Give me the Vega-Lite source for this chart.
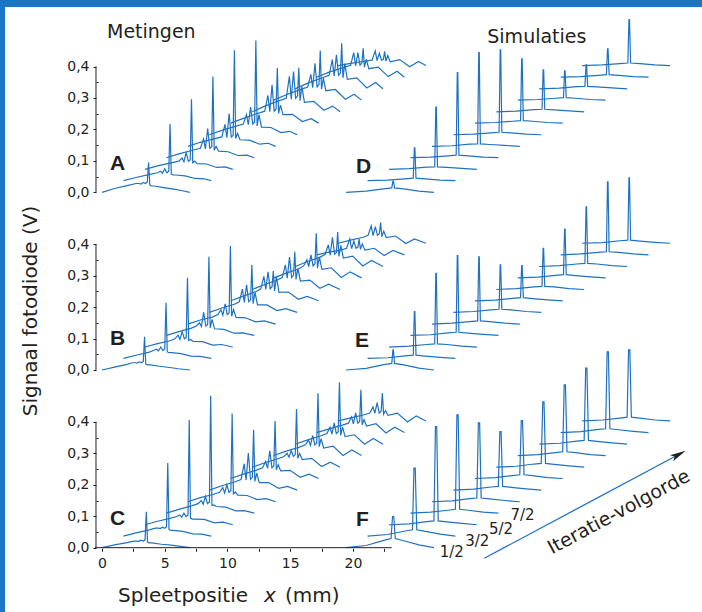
{
"$schema":"https://vega.github.io/schema/vega-lite/v6.json",
"width":697,"height":605,
"autosize":{"type":"none"},
"padding":{"left":5,"top":7,"right":0,"bottom":0},
"background":"#1b75c3",
"config":{"view":{"fill":"white","stroke":null}},
"encoding":{"x":{"field":"x","type":"quantitative","scale":{"domain":[-7.729,47.809],"nice":false,"zero":false},"axis":{"orient":"bottom","offset":-63.7,"values":[0,2.5,5,7.5,10,12.5,15,17.5,20,22.5],"labelExpr":"datum.value % 5 == 0 ? datum.value : ''","domain":false,"grid":false,"tickSize":3,"tickColor":"#231f20","labelFont":"DejaVu Sans","labelFontSize":14,"labelColor":"#231f20","labelPadding":5,"labelOverlap":false,"labelFlush":false,"title":null}}},
"layer":[
{"data":{"values":[
{"k":"a1","x":0,"y":0},{"k":"a1","x":1,"y":0.012},{"k":"a1","x":2,"y":0.021},{"k":"a1","x":2.71,"y":0.028},{"k":"a1","x":2.96,"y":0.028},{"k":"a1","x":3.11,"y":0.026},{"k":"a1","x":3.29,"y":0.031},{"k":"a1","x":3.46,"y":0.028},{"k":"a1","x":3.61,"y":0.033},{"k":"a1","x":3.71,"y":0.095},{"k":"a1","x":3.81,"y":0.023},{"k":"a1","x":3.96,"y":0.02},{"k":"a1","x":4.16,"y":0.02},{"k":"a1","x":4.91,"y":0.015},{"k":"a1","x":5.71,"y":0.01},{"k":"a1","x":6.41,"y":0.005},{"k":"a1","x":7,"y":0},
{"k":"a2","x":1.71,"y":0.037},{"k":"a2","x":2.71,"y":0.047},{"k":"a2","x":3.71,"y":0.056},{"k":"a2","x":4.42,"y":0.062},{"k":"a2","x":4.67,"y":0.067},{"k":"a2","x":4.82,"y":0.061},{"k":"a2","x":5.0,"y":0.075},{"k":"a2","x":5.17,"y":0.062},{"k":"a2","x":5.32,"y":0.067},{"k":"a2","x":5.42,"y":0.217},{"k":"a2","x":5.52,"y":0.058},{"k":"a2","x":5.67,"y":0.055},{"k":"a2","x":5.87,"y":0.055},{"k":"a2","x":6.62,"y":0.052},{"k":"a2","x":7.42,"y":0.044},{"k":"a2","x":8.12,"y":0.043},{"k":"a2","x":8.71,"y":0.037},
{"k":"a3","x":3.42,"y":0.073},{"k":"a3","x":4.42,"y":0.084},{"k":"a3","x":5.42,"y":0.093},{"k":"a3","x":6.13,"y":0.099},{"k":"a3","x":6.38,"y":0.109},{"k":"a3","x":6.53,"y":0.097},{"k":"a3","x":6.71,"y":0.127},{"k":"a3","x":6.88,"y":0.099},{"k":"a3","x":7.03,"y":0.103},{"k":"a3","x":7.13,"y":0.296},{"k":"a3","x":7.23,"y":0.094},{"k":"a3","x":7.38,"y":0.099},{"k":"a3","x":7.58,"y":0.091},{"k":"a3","x":8.33,"y":0.09},{"k":"a3","x":9.13,"y":0.079},{"k":"a3","x":9.83,"y":0.081},{"k":"a3","x":10.42,"y":0.073},
{"k":"a4","x":5.13,"y":0.11},{"k":"a4","x":6.13,"y":0.122},{"k":"a4","x":7.13,"y":0.133},{"k":"a4","x":7.84,"y":0.14},{"k":"a4","x":8.09,"y":0.17},{"k":"a4","x":8.24,"y":0.138},{"k":"a4","x":8.42,"y":0.203},{"k":"a4","x":8.59,"y":0.14},{"k":"a4","x":8.74,"y":0.145},{"k":"a4","x":8.84,"y":0.368},{"k":"a4","x":8.94,"y":0.134},{"k":"a4","x":9.09,"y":0.146},{"k":"a4","x":9.29,"y":0.131},{"k":"a4","x":10.04,"y":0.129},{"k":"a4","x":10.84,"y":0.117},{"k":"a4","x":11.54,"y":0.118},{"k":"a4","x":12.13,"y":0.11},
{"k":"a5","x":6.84,"y":0.146},{"k":"a5","x":7.84,"y":0.159},{"k":"a5","x":8.84,"y":0.169},{"k":"a5","x":9.55,"y":0.176},{"k":"a5","x":9.8,"y":0.216},{"k":"a5","x":9.95,"y":0.174},{"k":"a5","x":10.13,"y":0.25},{"k":"a5","x":10.3,"y":0.176},{"k":"a5","x":10.45,"y":0.181},{"k":"a5","x":10.55,"y":0.452},{"k":"a5","x":10.65,"y":0.171},{"k":"a5","x":10.8,"y":0.187},{"k":"a5","x":11.0,"y":0.167},{"k":"a5","x":11.75,"y":0.166},{"k":"a5","x":12.55,"y":0.153},{"k":"a5","x":13.25,"y":0.156},{"k":"a5","x":13.84,"y":0.146},
{"k":"a6","x":8.55,"y":0.183},{"k":"a6","x":9.55,"y":0.197},{"k":"a6","x":10.55,"y":0.209},{"k":"a6","x":11.26,"y":0.217},{"k":"a6","x":11.51,"y":0.247},{"k":"a6","x":11.66,"y":0.215},{"k":"a6","x":11.84,"y":0.271},{"k":"a6","x":12.01,"y":0.217},{"k":"a6","x":12.16,"y":0.223},{"k":"a6","x":12.26,"y":0.483},{"k":"a6","x":12.36,"y":0.211},{"k":"a6","x":12.51,"y":0.247},{"k":"a6","x":12.71,"y":0.207},{"k":"a6","x":13.46,"y":0.206},{"k":"a6","x":14.26,"y":0.19},{"k":"a6","x":14.96,"y":0.194},{"k":"a6","x":15.55,"y":0.183},
{"k":"a7","x":10.26,"y":0.22},{"k":"a7","x":11.26,"y":0.235},{"k":"a7","x":12.26,"y":0.249},{"k":"a7","x":12.97,"y":0.258},{"k":"a7","x":13.22,"y":0.308},{"k":"a7","x":13.37,"y":0.256},{"k":"a7","x":13.55,"y":0.342},{"k":"a7","x":13.72,"y":0.258},{"k":"a7","x":13.87,"y":0.265},{"k":"a7","x":13.97,"y":0.395},{"k":"a7","x":14.07,"y":0.251},{"k":"a7","x":14.22,"y":0.277},{"k":"a7","x":14.42,"y":0.247},{"k":"a7","x":15.17,"y":0.248},{"k":"a7","x":15.97,"y":0.225},{"k":"a7","x":16.67,"y":0.234},{"k":"a7","x":17.26,"y":0.22},
{"k":"a8","x":11.97,"y":0.256},{"k":"a8","x":12.97,"y":0.274},{"k":"a8","x":13.97,"y":0.289},{"k":"a8","x":14.68,"y":0.299},{"k":"a8","x":14.93,"y":0.369},{"k":"a8","x":15.08,"y":0.296},{"k":"a8","x":15.26,"y":0.384},{"k":"a8","x":15.43,"y":0.299},{"k":"a8","x":15.58,"y":0.306},{"k":"a8","x":15.68,"y":0.396},{"k":"a8","x":15.78,"y":0.291},{"k":"a8","x":15.93,"y":0.336},{"k":"a8","x":16.13,"y":0.286},{"k":"a8","x":16.88,"y":0.289},{"k":"a8","x":17.68,"y":0.261},{"k":"a8","x":18.38,"y":0.274},{"k":"a8","x":18.97,"y":0.256},
{"k":"a9","x":13.68,"y":0.293},{"k":"a9","x":14.68,"y":0.31},{"k":"a9","x":15.68,"y":0.325},{"k":"a9","x":16.39,"y":0.335},{"k":"a9","x":16.64,"y":0.375},{"k":"a9","x":16.79,"y":0.333},{"k":"a9","x":16.97,"y":0.41},{"k":"a9","x":17.14,"y":0.335},{"k":"a9","x":17.29,"y":0.343},{"k":"a9","x":17.39,"y":0.451},{"k":"a9","x":17.49,"y":0.328},{"k":"a9","x":17.64,"y":0.363},{"k":"a9","x":17.84,"y":0.323},{"k":"a9","x":18.59,"y":0.327},{"k":"a9","x":19.39,"y":0.296},{"k":"a9","x":20.09,"y":0.312},{"k":"a9","x":20.68,"y":0.293},
{"k":"a10","x":15.39,"y":0.329},{"k":"a10","x":16.39,"y":0.347},{"k":"a10","x":17.39,"y":0.362},{"k":"a10","x":18.1,"y":0.372},{"k":"a10","x":18.35,"y":0.422},{"k":"a10","x":18.5,"y":0.369},{"k":"a10","x":18.68,"y":0.437},{"k":"a10","x":18.85,"y":0.372},{"k":"a10","x":19.0,"y":0.379},{"k":"a10","x":19.1,"y":0.474},{"k":"a10","x":19.2,"y":0.364},{"k":"a10","x":19.35,"y":0.409},{"k":"a10","x":19.55,"y":0.359},{"k":"a10","x":20.3,"y":0.364},{"k":"a10","x":21.1,"y":0.332},{"k":"a10","x":21.8,"y":0.349},{"k":"a10","x":22.39,"y":0.329},
{"k":"a11","x":17.1,"y":0.366},{"k":"a11","x":18.1,"y":0.382},{"k":"a11","x":19.1,"y":0.395},{"k":"a11","x":19.81,"y":0.404},{"k":"a11","x":20.06,"y":0.444},{"k":"a11","x":20.21,"y":0.402},{"k":"a11","x":20.39,"y":0.444},{"k":"a11","x":20.56,"y":0.404},{"k":"a11","x":20.71,"y":0.411},{"k":"a11","x":20.81,"y":0.458},{"k":"a11","x":20.91,"y":0.398},{"k":"a11","x":21.06,"y":0.423},{"k":"a11","x":21.26,"y":0.393},{"k":"a11","x":22.01,"y":0.398},{"k":"a11","x":22.81,"y":0.368},{"k":"a11","x":23.51,"y":0.385},{"k":"a11","x":24.1,"y":0.366},
{"k":"a12","x":18.81,"y":0.403},{"k":"a12","x":19.81,"y":0.41},{"k":"a12","x":20.81,"y":0.416},{"k":"a12","x":21.52,"y":0.42},{"k":"a12","x":21.77,"y":0.45},{"k":"a12","x":21.92,"y":0.419},{"k":"a12","x":22.1,"y":0.442},{"k":"a12","x":22.27,"y":0.42},{"k":"a12","x":22.42,"y":0.423},{"k":"a12","x":22.52,"y":0.448},{"k":"a12","x":22.62,"y":0.417},{"k":"a12","x":22.77,"y":0.435},{"k":"a12","x":22.97,"y":0.415},{"k":"a12","x":23.72,"y":0.422},{"k":"a12","x":24.52,"y":0.399},{"k":"a12","x":25.22,"y":0.416},{"k":"a12","x":25.81,"y":0.403},
{"k":"d1","x":19.45,"y":0},{"k":"d1","x":21.05,"y":0.004},{"k":"d1","x":22.45,"y":0.011},{"k":"d1","x":23.09,"y":0.014},{"k":"d1","x":23.18,"y":0.036},{"k":"d1","x":23.22,"y":0.036},{"k":"d1","x":23.31,"y":0.014},{"k":"d1","x":24.05,"y":0.011},{"k":"d1","x":25.25,"y":0.004},{"k":"d1","x":26.45,"y":0},
{"k":"d2","x":21.16,"y":0.037},{"k":"d2","x":22.76,"y":0.039},{"k":"d2","x":24.16,"y":0.043},{"k":"d2","x":24.8,"y":0.045},{"k":"d2","x":24.89,"y":0.141},{"k":"d2","x":24.93,"y":0.141},{"k":"d2","x":25.02,"y":0.045},{"k":"d2","x":25.76,"y":0.043},{"k":"d2","x":26.96,"y":0.039},{"k":"d2","x":28.16,"y":0.037},
{"k":"d3","x":22.87,"y":0.073},{"k":"d3","x":24.47,"y":0.075},{"k":"d3","x":25.87,"y":0.08},{"k":"d3","x":26.51,"y":0.081},{"k":"d3","x":26.6,"y":0.271},{"k":"d3","x":26.64,"y":0.271},{"k":"d3","x":26.73,"y":0.081},{"k":"d3","x":27.47,"y":0.079},{"k":"d3","x":28.67,"y":0.076},{"k":"d3","x":29.87,"y":0.073},
{"k":"d4","x":24.58,"y":0.11},{"k":"d4","x":26.18,"y":0.112},{"k":"d4","x":27.58,"y":0.116},{"k":"d4","x":28.22,"y":0.118},{"k":"d4","x":28.31,"y":0.381},{"k":"d4","x":28.35,"y":0.381},{"k":"d4","x":28.44,"y":0.118},{"k":"d4","x":29.18,"y":0.116},{"k":"d4","x":30.38,"y":0.112},{"k":"d4","x":31.58,"y":0.11},
{"k":"d5","x":26.29,"y":0.146},{"k":"d5","x":27.89,"y":0.148},{"k":"d5","x":29.29,"y":0.153},{"k":"d5","x":29.93,"y":0.154},{"k":"d5","x":30.02,"y":0.444},{"k":"d5","x":30.06,"y":0.444},{"k":"d5","x":30.15,"y":0.154},{"k":"d5","x":30.89,"y":0.152},{"k":"d5","x":32.09,"y":0.149},{"k":"d5","x":33.29,"y":0.146},
{"k":"d6","x":28,"y":0.183},{"k":"d6","x":29.6,"y":0.185},{"k":"d6","x":31,"y":0.189},{"k":"d6","x":31.64,"y":0.191},{"k":"d6","x":31.73,"y":0.453},{"k":"d6","x":31.77,"y":0.453},{"k":"d6","x":31.86,"y":0.191},{"k":"d6","x":32.6,"y":0.189},{"k":"d6","x":33.8,"y":0.185},{"k":"d6","x":35,"y":0.183},
{"k":"d7","x":29.71,"y":0.22},{"k":"d7","x":31.31,"y":0.222},{"k":"d7","x":32.71,"y":0.226},{"k":"d7","x":33.35,"y":0.228},{"k":"d7","x":33.44,"y":0.424},{"k":"d7","x":33.48,"y":0.424},{"k":"d7","x":33.57,"y":0.228},{"k":"d7","x":34.31,"y":0.226},{"k":"d7","x":35.51,"y":0.222},{"k":"d7","x":36.71,"y":0.22},
{"k":"d8","x":31.42,"y":0.256},{"k":"d8","x":33.02,"y":0.258},{"k":"d8","x":34.42,"y":0.263},{"k":"d8","x":35.06,"y":0.264},{"k":"d8","x":35.15,"y":0.389},{"k":"d8","x":35.19,"y":0.389},{"k":"d8","x":35.28,"y":0.264},{"k":"d8","x":36.02,"y":0.262},{"k":"d8","x":37.22,"y":0.259},{"k":"d8","x":38.42,"y":0.256},
{"k":"d9","x":33.13,"y":0.293},{"k":"d9","x":34.73,"y":0.295},{"k":"d9","x":36.13,"y":0.299},{"k":"d9","x":36.77,"y":0.301},{"k":"d9","x":36.86,"y":0.386},{"k":"d9","x":36.9,"y":0.386},{"k":"d9","x":36.99,"y":0.301},{"k":"d9","x":37.73,"y":0.299},{"k":"d9","x":38.93,"y":0.295},{"k":"d9","x":40.13,"y":0.293},
{"k":"d10","x":34.84,"y":0.329},{"k":"d10","x":36.44,"y":0.331},{"k":"d10","x":37.84,"y":0.336},{"k":"d10","x":38.48,"y":0.337},{"k":"d10","x":38.57,"y":0.405},{"k":"d10","x":38.61,"y":0.405},{"k":"d10","x":38.7,"y":0.337},{"k":"d10","x":39.44,"y":0.335},{"k":"d10","x":40.64,"y":0.332},{"k":"d10","x":41.84,"y":0.329},
{"k":"d11","x":36.55,"y":0.366},{"k":"d11","x":38.15,"y":0.368},{"k":"d11","x":39.55,"y":0.372},{"k":"d11","x":40.19,"y":0.374},{"k":"d11","x":40.28,"y":0.456},{"k":"d11","x":40.32,"y":0.456},{"k":"d11","x":40.41,"y":0.374},{"k":"d11","x":41.15,"y":0.372},{"k":"d11","x":42.35,"y":0.368},{"k":"d11","x":43.55,"y":0.366},
{"k":"d12","x":38.26,"y":0.403},{"k":"d12","x":39.86,"y":0.405},{"k":"d12","x":41.26,"y":0.409},{"k":"d12","x":41.9,"y":0.411},{"k":"d12","x":41.99,"y":0.549},{"k":"d12","x":42.03,"y":0.549},{"k":"d12","x":42.12,"y":0.411},{"k":"d12","x":42.86,"y":0.409},{"k":"d12","x":44.06,"y":0.405},{"k":"d12","x":45.26,"y":0.403}
]},
"encoding":{"y":{"field":"y","type":"quantitative","scale":{"domain":[-1.3345,0.5892],"nice":false,"zero":false},"axis":{"orient":"left","offset":-91,"values":[0,0.05,0.1,0.15,0.2,0.25,0.3,0.35,0.4],"labelExpr":"round(datum.value*20) % 2 == 1 ? '' : replace(format(datum.value, '.1f'), '.', ',')","domain":false,"grid":false,"tickSize":{"condition":{"test":"round(datum.value*20) % 2 == 1","value":-2},"value":3},"tickColor":"#231f20","labelFont":"DejaVu Sans","labelFontSize":14,"labelColor":"#231f20","labelPadding":4,"labelOverlap":false,"title":null}}},
"layer":[
{"mark":{"type":"line","color":"#1f72c2","strokeWidth":1.2},"encoding":{"detail":{"field":"k","type":"nominal"}}},
{"data":{"values":[{"x":-0.478,"y":0,"y2":0.4}]},"mark":{"type":"rule","color":"#231f20","strokeWidth":1},"encoding":{"y2":{"field":"y2"}}},
{"data":{"values":[{"x":0.398,"y":0.4897,"t":"Metingen"},{"x":30.7,"y":0.4757,"t":"Simulaties"}]},"mark":{"type":"text","font":"DejaVu Sans","fontSize":19,"align":"left","baseline":"alphabetic","color":"#231f20"},"encoding":{"text":{"field":"t"}}},
{"data":{"values":[{"x":0.637,"y":0.0709,"t":"A"},{"x":20.24,"y":0.0623,"t":"D"}]},"mark":{"type":"text","font":"Liberation Sans","fontWeight":"bold","fontSize":21,"align":"left","baseline":"alphabetic","color":"#231f20"},"encoding":{"text":{"field":"t"}}},
{"data":{"values":[{}]},"mark":{"type":"rect","fill":{"gradient":"linear","x1":0,"y1":0,"x2":1,"y2":0,"stops":[{"offset":0,"color":"#1b70c0"},{"offset":0.5,"color":"#4386cb"},{"offset":1,"color":"#7ca7d8"}]}},"encoding":{"x":{"datum":-7.729},"x2":{"datum":47.809},"y":{"datum":0.5892},"y2":{"datum":0.65}}}
]},
{"data":{"values":[
{"k":"b1","x":0,"y":0},{"k":"b1","x":1,"y":0.009},{"k":"b1","x":2,"y":0.018},{"k":"b1","x":2.39,"y":0.023},{"k":"b1","x":2.64,"y":0.023},{"k":"b1","x":2.79,"y":0.022},{"k":"b1","x":2.97,"y":0.026},{"k":"b1","x":3.14,"y":0.023},{"k":"b1","x":3.29,"y":0.027},{"k":"b1","x":3.39,"y":0.106},{"k":"b1","x":3.49,"y":0.019},{"k":"b1","x":3.64,"y":0.016},{"k":"b1","x":3.84,"y":0.016},{"k":"b1","x":4.59,"y":0.012},{"k":"b1","x":5.39,"y":0.008},{"k":"b1","x":6.09,"y":0.004},{"k":"b1","x":7,"y":0},
{"k":"b2","x":1.71,"y":0.037},{"k":"b2","x":2.71,"y":0.047},{"k":"b2","x":3.71,"y":0.056},{"k":"b2","x":4.1,"y":0.062},{"k":"b2","x":4.35,"y":0.066},{"k":"b2","x":4.5,"y":0.061},{"k":"b2","x":4.68,"y":0.073},{"k":"b2","x":4.85,"y":0.062},{"k":"b2","x":5.0,"y":0.067},{"k":"b2","x":5.1,"y":0.214},{"k":"b2","x":5.2,"y":0.058},{"k":"b2","x":5.35,"y":0.055},{"k":"b2","x":5.55,"y":0.055},{"k":"b2","x":6.3,"y":0.052},{"k":"b2","x":7.1,"y":0.044},{"k":"b2","x":7.8,"y":0.043},{"k":"b2","x":8.71,"y":0.037},
{"k":"b3","x":3.42,"y":0.073},{"k":"b3","x":4.42,"y":0.084},{"k":"b3","x":5.42,"y":0.093},{"k":"b3","x":5.81,"y":0.099},{"k":"b3","x":6.06,"y":0.111},{"k":"b3","x":6.21,"y":0.097},{"k":"b3","x":6.39,"y":0.122},{"k":"b3","x":6.56,"y":0.099},{"k":"b3","x":6.71,"y":0.103},{"k":"b3","x":6.81,"y":0.293},{"k":"b3","x":6.91,"y":0.094},{"k":"b3","x":7.06,"y":0.097},{"k":"b3","x":7.26,"y":0.091},{"k":"b3","x":8.01,"y":0.09},{"k":"b3","x":8.81,"y":0.079},{"k":"b3","x":9.51,"y":0.081},{"k":"b3","x":10.42,"y":0.073},
{"k":"b4","x":5.13,"y":0.11},{"k":"b4","x":6.13,"y":0.122},{"k":"b4","x":7.13,"y":0.133},{"k":"b4","x":7.52,"y":0.14},{"k":"b4","x":7.77,"y":0.15},{"k":"b4","x":7.92,"y":0.138},{"k":"b4","x":8.1,"y":0.183},{"k":"b4","x":8.27,"y":0.14},{"k":"b4","x":8.42,"y":0.145},{"k":"b4","x":8.52,"y":0.36},{"k":"b4","x":8.62,"y":0.134},{"k":"b4","x":8.77,"y":0.161},{"k":"b4","x":8.97,"y":0.131},{"k":"b4","x":9.72,"y":0.129},{"k":"b4","x":10.52,"y":0.117},{"k":"b4","x":11.22,"y":0.118},{"k":"b4","x":12.13,"y":0.11},
{"k":"b5","x":6.84,"y":0.146},{"k":"b5","x":7.84,"y":0.159},{"k":"b5","x":8.84,"y":0.169},{"k":"b5","x":9.23,"y":0.176},{"k":"b5","x":9.48,"y":0.191},{"k":"b5","x":9.63,"y":0.174},{"k":"b5","x":9.81,"y":0.21},{"k":"b5","x":9.98,"y":0.176},{"k":"b5","x":10.13,"y":0.181},{"k":"b5","x":10.23,"y":0.394},{"k":"b5","x":10.33,"y":0.171},{"k":"b5","x":10.48,"y":0.192},{"k":"b5","x":10.68,"y":0.167},{"k":"b5","x":11.43,"y":0.166},{"k":"b5","x":12.23,"y":0.153},{"k":"b5","x":12.93,"y":0.156},{"k":"b5","x":13.84,"y":0.146},
{"k":"b6","x":8.55,"y":0.183},{"k":"b6","x":9.55,"y":0.197},{"k":"b6","x":10.55,"y":0.209},{"k":"b6","x":10.94,"y":0.217},{"k":"b6","x":11.19,"y":0.257},{"k":"b6","x":11.34,"y":0.215},{"k":"b6","x":11.52,"y":0.271},{"k":"b6","x":11.69,"y":0.217},{"k":"b6","x":11.84,"y":0.223},{"k":"b6","x":11.94,"y":0.334},{"k":"b6","x":12.04,"y":0.211},{"k":"b6","x":12.19,"y":0.247},{"k":"b6","x":12.39,"y":0.207},{"k":"b6","x":13.14,"y":0.207},{"k":"b6","x":13.94,"y":0.189},{"k":"b6","x":14.64,"y":0.195},{"k":"b6","x":15.55,"y":0.183},
{"k":"b7","x":10.26,"y":0.22},{"k":"b7","x":11.26,"y":0.235},{"k":"b7","x":12.26,"y":0.249},{"k":"b7","x":12.65,"y":0.258},{"k":"b7","x":12.9,"y":0.298},{"k":"b7","x":13.05,"y":0.256},{"k":"b7","x":13.23,"y":0.312},{"k":"b7","x":13.4,"y":0.258},{"k":"b7","x":13.55,"y":0.265},{"k":"b7","x":13.65,"y":0.315},{"k":"b7","x":13.75,"y":0.251},{"k":"b7","x":13.9,"y":0.297},{"k":"b7","x":14.1,"y":0.247},{"k":"b7","x":14.85,"y":0.248},{"k":"b7","x":15.65,"y":0.225},{"k":"b7","x":16.35,"y":0.234},{"k":"b7","x":17.26,"y":0.22},
{"k":"b8","x":11.97,"y":0.256},{"k":"b8","x":12.97,"y":0.272},{"k":"b8","x":13.97,"y":0.286},{"k":"b8","x":14.36,"y":0.294},{"k":"b8","x":14.61,"y":0.334},{"k":"b8","x":14.76,"y":0.292},{"k":"b8","x":14.94,"y":0.359},{"k":"b8","x":15.11,"y":0.294},{"k":"b8","x":15.26,"y":0.301},{"k":"b8","x":15.36,"y":0.376},{"k":"b8","x":15.46,"y":0.288},{"k":"b8","x":15.61,"y":0.323},{"k":"b8","x":15.81,"y":0.283},{"k":"b8","x":16.56,"y":0.286},{"k":"b8","x":17.36,"y":0.26},{"k":"b8","x":18.06,"y":0.273},{"k":"b8","x":18.97,"y":0.256},
{"k":"b9","x":13.68,"y":0.293},{"k":"b9","x":14.68,"y":0.308},{"k":"b9","x":15.68,"y":0.322},{"k":"b9","x":16.07,"y":0.331},{"k":"b9","x":16.32,"y":0.351},{"k":"b9","x":16.47,"y":0.329},{"k":"b9","x":16.65,"y":0.366},{"k":"b9","x":16.82,"y":0.331},{"k":"b9","x":16.97,"y":0.338},{"k":"b9","x":17.07,"y":0.435},{"k":"b9","x":17.17,"y":0.324},{"k":"b9","x":17.32,"y":0.36},{"k":"b9","x":17.52,"y":0.32},{"k":"b9","x":18.27,"y":0.325},{"k":"b9","x":19.07,"y":0.294},{"k":"b9","x":19.77,"y":0.312},{"k":"b9","x":20.68,"y":0.293},
{"k":"b10","x":15.39,"y":0.329},{"k":"b10","x":16.39,"y":0.345},{"k":"b10","x":17.39,"y":0.359},{"k":"b10","x":17.78,"y":0.368},{"k":"b10","x":18.03,"y":0.398},{"k":"b10","x":18.18,"y":0.365},{"k":"b10","x":18.36,"y":0.422},{"k":"b10","x":18.53,"y":0.368},{"k":"b10","x":18.68,"y":0.374},{"k":"b10","x":18.78,"y":0.439},{"k":"b10","x":18.88,"y":0.361},{"k":"b10","x":19.03,"y":0.396},{"k":"b10","x":19.23,"y":0.356},{"k":"b10","x":19.98,"y":0.362},{"k":"b10","x":20.78,"y":0.331},{"k":"b10","x":21.48,"y":0.348},{"k":"b10","x":22.39,"y":0.329},
{"k":"b11","x":17.1,"y":0.366},{"k":"b11","x":18.1,"y":0.375},{"k":"b11","x":19.1,"y":0.382},{"k":"b11","x":19.49,"y":0.387},{"k":"b11","x":19.74,"y":0.417},{"k":"b11","x":19.89,"y":0.386},{"k":"b11","x":20.07,"y":0.41},{"k":"b11","x":20.24,"y":0.387},{"k":"b11","x":20.39,"y":0.391},{"k":"b11","x":20.49,"y":0.416},{"k":"b11","x":20.59,"y":0.384},{"k":"b11","x":20.74,"y":0.401},{"k":"b11","x":20.94,"y":0.381},{"k":"b11","x":21.69,"y":0.387},{"k":"b11","x":22.49,"y":0.364},{"k":"b11","x":23.19,"y":0.38},{"k":"b11","x":24.1,"y":0.366},
{"k":"b12","x":18.81,"y":0.403},{"k":"b12","x":19.81,"y":0.413},{"k":"b12","x":20.81,"y":0.422},{"k":"b12","x":21.2,"y":0.428},{"k":"b12","x":21.45,"y":0.458},{"k":"b12","x":21.6,"y":0.427},{"k":"b12","x":21.78,"y":0.456},{"k":"b12","x":21.95,"y":0.428},{"k":"b12","x":22.1,"y":0.433},{"k":"b12","x":22.2,"y":0.469},{"k":"b12","x":22.3,"y":0.424},{"k":"b12","x":22.45,"y":0.441},{"k":"b12","x":22.65,"y":0.421},{"k":"b12","x":23.4,"y":0.426},{"k":"b12","x":24.2,"y":0.402},{"k":"b12","x":24.9,"y":0.417},{"k":"b12","x":25.81,"y":0.403},
{"k":"e1","x":19.45,"y":0},{"k":"e1","x":21.05,"y":0.005},{"k":"e1","x":22.45,"y":0.017},{"k":"e1","x":23.09,"y":0.021},{"k":"e1","x":23.18,"y":0.064},{"k":"e1","x":23.22,"y":0.064},{"k":"e1","x":23.31,"y":0.021},{"k":"e1","x":24.05,"y":0.016},{"k":"e1","x":25.25,"y":0.006},{"k":"e1","x":26.45,"y":0},
{"k":"e2","x":21.16,"y":0.037},{"k":"e2","x":22.76,"y":0.039},{"k":"e2","x":24.16,"y":0.045},{"k":"e2","x":24.8,"y":0.047},{"k":"e2","x":24.89,"y":0.186},{"k":"e2","x":24.93,"y":0.186},{"k":"e2","x":25.02,"y":0.047},{"k":"e2","x":25.76,"y":0.044},{"k":"e2","x":26.96,"y":0.04},{"k":"e2","x":28.16,"y":0.037},
{"k":"e3","x":22.87,"y":0.073},{"k":"e3","x":24.47,"y":0.076},{"k":"e3","x":25.87,"y":0.081},{"k":"e3","x":26.51,"y":0.083},{"k":"e3","x":26.6,"y":0.307},{"k":"e3","x":26.64,"y":0.307},{"k":"e3","x":26.73,"y":0.083},{"k":"e3","x":27.47,"y":0.081},{"k":"e3","x":28.67,"y":0.076},{"k":"e3","x":29.87,"y":0.073},
{"k":"e4","x":24.58,"y":0.11},{"k":"e4","x":26.18,"y":0.112},{"k":"e4","x":27.58,"y":0.118},{"k":"e4","x":28.22,"y":0.12},{"k":"e4","x":28.31,"y":0.364},{"k":"e4","x":28.35,"y":0.364},{"k":"e4","x":28.44,"y":0.12},{"k":"e4","x":29.18,"y":0.117},{"k":"e4","x":30.38,"y":0.113},{"k":"e4","x":31.58,"y":0.11},
{"k":"e5","x":26.29,"y":0.146},{"k":"e5","x":27.89,"y":0.149},{"k":"e5","x":29.29,"y":0.154},{"k":"e5","x":29.93,"y":0.156},{"k":"e5","x":30.02,"y":0.36},{"k":"e5","x":30.06,"y":0.36},{"k":"e5","x":30.15,"y":0.156},{"k":"e5","x":30.89,"y":0.154},{"k":"e5","x":32.09,"y":0.149},{"k":"e5","x":33.29,"y":0.146},
{"k":"e6","x":28,"y":0.183},{"k":"e6","x":29.6,"y":0.186},{"k":"e6","x":31,"y":0.191},{"k":"e6","x":31.64,"y":0.193},{"k":"e6","x":31.73,"y":0.334},{"k":"e6","x":31.77,"y":0.334},{"k":"e6","x":31.86,"y":0.193},{"k":"e6","x":32.6,"y":0.191},{"k":"e6","x":33.8,"y":0.186},{"k":"e6","x":35,"y":0.183},
{"k":"e7","x":29.71,"y":0.22},{"k":"e7","x":31.31,"y":0.222},{"k":"e7","x":32.71,"y":0.228},{"k":"e7","x":33.35,"y":0.23},{"k":"e7","x":33.44,"y":0.332},{"k":"e7","x":33.48,"y":0.332},{"k":"e7","x":33.57,"y":0.23},{"k":"e7","x":34.31,"y":0.227},{"k":"e7","x":35.51,"y":0.223},{"k":"e7","x":36.71,"y":0.22},
{"k":"e8","x":31.42,"y":0.256},{"k":"e8","x":33.02,"y":0.259},{"k":"e8","x":34.42,"y":0.264},{"k":"e8","x":35.06,"y":0.266},{"k":"e8","x":35.15,"y":0.387},{"k":"e8","x":35.19,"y":0.387},{"k":"e8","x":35.28,"y":0.266},{"k":"e8","x":36.02,"y":0.264},{"k":"e8","x":37.22,"y":0.259},{"k":"e8","x":38.42,"y":0.256},
{"k":"e9","x":33.13,"y":0.293},{"k":"e9","x":34.73,"y":0.295},{"k":"e9","x":36.13,"y":0.301},{"k":"e9","x":36.77,"y":0.303},{"k":"e9","x":36.86,"y":0.448},{"k":"e9","x":36.9,"y":0.448},{"k":"e9","x":36.99,"y":0.303},{"k":"e9","x":37.73,"y":0.3},{"k":"e9","x":38.93,"y":0.296},{"k":"e9","x":40.13,"y":0.293},
{"k":"e10","x":34.84,"y":0.329},{"k":"e10","x":36.44,"y":0.332},{"k":"e10","x":37.84,"y":0.337},{"k":"e10","x":38.48,"y":0.339},{"k":"e10","x":38.57,"y":0.519},{"k":"e10","x":38.61,"y":0.519},{"k":"e10","x":38.7,"y":0.339},{"k":"e10","x":39.44,"y":0.337},{"k":"e10","x":40.64,"y":0.332},{"k":"e10","x":41.84,"y":0.329},
{"k":"e11","x":36.55,"y":0.366},{"k":"e11","x":38.15,"y":0.369},{"k":"e11","x":39.55,"y":0.374},{"k":"e11","x":40.19,"y":0.376},{"k":"e11","x":40.28,"y":0.598},{"k":"e11","x":40.32,"y":0.598},{"k":"e11","x":40.41,"y":0.376},{"k":"e11","x":41.15,"y":0.374},{"k":"e11","x":42.35,"y":0.369},{"k":"e11","x":43.55,"y":0.366},
{"k":"e12","x":38.26,"y":0.403},{"k":"e12","x":39.86,"y":0.405},{"k":"e12","x":41.26,"y":0.411},{"k":"e12","x":41.9,"y":0.413},{"k":"e12","x":41.99,"y":0.611},{"k":"e12","x":42.03,"y":0.611},{"k":"e12","x":42.12,"y":0.413},{"k":"e12","x":42.86,"y":0.41},{"k":"e12","x":44.06,"y":0.406},{"k":"e12","x":45.26,"y":0.403}
]},
"encoding":{"y":{"field":"y","type":"quantitative","scale":{"domain":[-0.7695,1.1542],"nice":false,"zero":false},"axis":{"orient":"left","offset":-91,"values":[0,0.05,0.1,0.15,0.2,0.25,0.3,0.35,0.4],"labelExpr":"round(datum.value*20) % 2 == 1 ? '' : replace(format(datum.value, '.1f'), '.', ',')","domain":false,"grid":false,"tickSize":{"condition":{"test":"round(datum.value*20) % 2 == 1","value":-2},"value":3},"tickColor":"#231f20","labelFont":"DejaVu Sans","labelFontSize":14,"labelColor":"#231f20","labelPadding":4,"labelOverlap":false,"title":null}}},
"layer":[
{"mark":{"type":"line","color":"#1f72c2","strokeWidth":1.2},"encoding":{"detail":{"field":"k","type":"nominal"}}},
{"data":{"values":[{"x":-0.478,"y":0,"y2":0.4}]},"mark":{"type":"rule","color":"#231f20","strokeWidth":1},"encoding":{"y2":{"field":"y2"}}},
{"data":{"values":[{"x":0.637,"y":0.0795,"t":"B"},{"x":20.16,"y":0.0741,"t":"E"}]},"mark":{"type":"text","font":"Liberation Sans","fontWeight":"bold","fontSize":21,"align":"left","baseline":"alphabetic","color":"#231f20"},"encoding":{"text":{"field":"t"}}},
{"data":{"values":[{"x":-5.203,"y":0.1876,"t":"Signaal fotodiode (V)"}]},"mark":{"type":"text","font":"DejaVu Sans","fontSize":20,"align":"center","baseline":"alphabetic","angle":270,"color":"#231f20"},"encoding":{"text":{"field":"t"}}}
]},
{"data":{"values":[
{"k":"c1","x":0,"y":0},{"k":"c1","x":1,"y":0.009},{"k":"c1","x":2,"y":0.016},{"k":"c1","x":2.53,"y":0.021},{"k":"c1","x":2.78,"y":0.021},{"k":"c1","x":2.93,"y":0.02},{"k":"c1","x":3.11,"y":0.024},{"k":"c1","x":3.28,"y":0.021},{"k":"c1","x":3.43,"y":0.025},{"k":"c1","x":3.53,"y":0.114},{"k":"c1","x":3.63,"y":0.018},{"k":"c1","x":3.78,"y":0.015},{"k":"c1","x":3.98,"y":0.015},{"k":"c1","x":4.73,"y":0.011},{"k":"c1","x":5.53,"y":0.008},{"k":"c1","x":6.23,"y":0.004},{"k":"c1","x":7,"y":0},
{"k":"c2","x":1.71,"y":0.037},{"k":"c2","x":2.71,"y":0.047},{"k":"c2","x":3.71,"y":0.056},{"k":"c2","x":4.24,"y":0.062},{"k":"c2","x":4.49,"y":0.062},{"k":"c2","x":4.64,"y":0.061},{"k":"c2","x":4.82,"y":0.065},{"k":"c2","x":4.99,"y":0.062},{"k":"c2","x":5.14,"y":0.067},{"k":"c2","x":5.24,"y":0.269},{"k":"c2","x":5.34,"y":0.058},{"k":"c2","x":5.49,"y":0.055},{"k":"c2","x":5.69,"y":0.055},{"k":"c2","x":6.44,"y":0.052},{"k":"c2","x":7.24,"y":0.044},{"k":"c2","x":7.94,"y":0.043},{"k":"c2","x":8.71,"y":0.037},
{"k":"c3","x":3.42,"y":0.073},{"k":"c3","x":4.42,"y":0.084},{"k":"c3","x":5.42,"y":0.093},{"k":"c3","x":5.95,"y":0.099},{"k":"c3","x":6.2,"y":0.104},{"k":"c3","x":6.35,"y":0.097},{"k":"c3","x":6.53,"y":0.11},{"k":"c3","x":6.7,"y":0.099},{"k":"c3","x":6.85,"y":0.103},{"k":"c3","x":6.95,"y":0.406},{"k":"c3","x":7.05,"y":0.094},{"k":"c3","x":7.2,"y":0.091},{"k":"c3","x":7.4,"y":0.091},{"k":"c3","x":8.15,"y":0.09},{"k":"c3","x":8.95,"y":0.079},{"k":"c3","x":9.65,"y":0.081},{"k":"c3","x":10.42,"y":0.073},
{"k":"c4","x":5.13,"y":0.11},{"k":"c4","x":6.13,"y":0.122},{"k":"c4","x":7.13,"y":0.133},{"k":"c4","x":7.66,"y":0.14},{"k":"c4","x":7.91,"y":0.15},{"k":"c4","x":8.06,"y":0.138},{"k":"c4","x":8.24,"y":0.163},{"k":"c4","x":8.41,"y":0.14},{"k":"c4","x":8.56,"y":0.145},{"k":"c4","x":8.66,"y":0.483},{"k":"c4","x":8.76,"y":0.134},{"k":"c4","x":8.91,"y":0.136},{"k":"c4","x":9.11,"y":0.131},{"k":"c4","x":9.86,"y":0.129},{"k":"c4","x":10.66,"y":0.117},{"k":"c4","x":11.36,"y":0.118},{"k":"c4","x":12.13,"y":0.11},
{"k":"c5","x":6.84,"y":0.146},{"k":"c5","x":7.84,"y":0.159},{"k":"c5","x":8.84,"y":0.169},{"k":"c5","x":9.37,"y":0.176},{"k":"c5","x":9.62,"y":0.191},{"k":"c5","x":9.77,"y":0.174},{"k":"c5","x":9.95,"y":0.2},{"k":"c5","x":10.12,"y":0.176},{"k":"c5","x":10.27,"y":0.181},{"k":"c5","x":10.37,"y":0.427},{"k":"c5","x":10.47,"y":0.171},{"k":"c5","x":10.62,"y":0.177},{"k":"c5","x":10.82,"y":0.167},{"k":"c5","x":11.57,"y":0.166},{"k":"c5","x":12.37,"y":0.153},{"k":"c5","x":13.07,"y":0.156},{"k":"c5","x":13.84,"y":0.146},
{"k":"c6","x":8.55,"y":0.183},{"k":"c6","x":9.55,"y":0.197},{"k":"c6","x":10.55,"y":0.209},{"k":"c6","x":11.08,"y":0.217},{"k":"c6","x":11.33,"y":0.267},{"k":"c6","x":11.48,"y":0.215},{"k":"c6","x":11.66,"y":0.301},{"k":"c6","x":11.83,"y":0.217},{"k":"c6","x":11.98,"y":0.223},{"k":"c6","x":12.08,"y":0.374},{"k":"c6","x":12.18,"y":0.211},{"k":"c6","x":12.33,"y":0.237},{"k":"c6","x":12.53,"y":0.207},{"k":"c6","x":13.28,"y":0.207},{"k":"c6","x":14.08,"y":0.189},{"k":"c6","x":14.78,"y":0.195},{"k":"c6","x":15.55,"y":0.183},
{"k":"c7","x":10.26,"y":0.22},{"k":"c7","x":11.26,"y":0.234},{"k":"c7","x":12.26,"y":0.246},{"k":"c7","x":12.79,"y":0.254},{"k":"c7","x":13.04,"y":0.274},{"k":"c7","x":13.19,"y":0.252},{"k":"c7","x":13.37,"y":0.308},{"k":"c7","x":13.54,"y":0.254},{"k":"c7","x":13.69,"y":0.26},{"k":"c7","x":13.79,"y":0.403},{"k":"c7","x":13.89,"y":0.248},{"k":"c7","x":14.04,"y":0.264},{"k":"c7","x":14.24,"y":0.244},{"k":"c7","x":14.99,"y":0.246},{"k":"c7","x":15.79,"y":0.224},{"k":"c7","x":16.49,"y":0.234},{"k":"c7","x":17.26,"y":0.22},
{"k":"c8","x":11.97,"y":0.256},{"k":"c8","x":12.97,"y":0.27},{"k":"c8","x":13.97,"y":0.282},{"k":"c8","x":14.5,"y":0.29},{"k":"c8","x":14.75,"y":0.3},{"k":"c8","x":14.9,"y":0.288},{"k":"c8","x":15.08,"y":0.309},{"k":"c8","x":15.25,"y":0.29},{"k":"c8","x":15.4,"y":0.296},{"k":"c8","x":15.5,"y":0.441},{"k":"c8","x":15.6,"y":0.284},{"k":"c8","x":15.75,"y":0.3},{"k":"c8","x":15.95,"y":0.28},{"k":"c8","x":16.7,"y":0.284},{"k":"c8","x":17.5,"y":0.258},{"k":"c8","x":18.2,"y":0.272},{"k":"c8","x":18.97,"y":0.256},
{"k":"c9","x":13.68,"y":0.293},{"k":"c9","x":14.68,"y":0.307},{"k":"c9","x":15.68,"y":0.319},{"k":"c9","x":16.21,"y":0.327},{"k":"c9","x":16.46,"y":0.342},{"k":"c9","x":16.61,"y":0.325},{"k":"c9","x":16.79,"y":0.356},{"k":"c9","x":16.96,"y":0.327},{"k":"c9","x":17.11,"y":0.333},{"k":"c9","x":17.21,"y":0.491},{"k":"c9","x":17.31,"y":0.321},{"k":"c9","x":17.46,"y":0.347},{"k":"c9","x":17.66,"y":0.317},{"k":"c9","x":18.41,"y":0.323},{"k":"c9","x":19.21,"y":0.293},{"k":"c9","x":19.91,"y":0.311},{"k":"c9","x":20.68,"y":0.293},
{"k":"c10","x":15.39,"y":0.329},{"k":"c10","x":16.39,"y":0.343},{"k":"c10","x":17.39,"y":0.355},{"k":"c10","x":17.92,"y":0.363},{"k":"c10","x":18.17,"y":0.383},{"k":"c10","x":18.32,"y":0.361},{"k":"c10","x":18.5,"y":0.397},{"k":"c10","x":18.67,"y":0.363},{"k":"c10","x":18.82,"y":0.369},{"k":"c10","x":18.92,"y":0.525},{"k":"c10","x":19.02,"y":0.357},{"k":"c10","x":19.17,"y":0.383},{"k":"c10","x":19.37,"y":0.353},{"k":"c10","x":20.12,"y":0.359},{"k":"c10","x":20.92,"y":0.329},{"k":"c10","x":21.62,"y":0.347},{"k":"c10","x":22.39,"y":0.329},
{"k":"c11","x":17.1,"y":0.366},{"k":"c11","x":18.1,"y":0.378},{"k":"c11","x":19.1,"y":0.389},{"k":"c11","x":19.63,"y":0.396},{"k":"c11","x":19.88,"y":0.416},{"k":"c11","x":20.03,"y":0.394},{"k":"c11","x":20.21,"y":0.429},{"k":"c11","x":20.38,"y":0.396},{"k":"c11","x":20.53,"y":0.401},{"k":"c11","x":20.63,"y":0.502},{"k":"c11","x":20.73,"y":0.391},{"k":"c11","x":20.88,"y":0.407},{"k":"c11","x":21.08,"y":0.387},{"k":"c11","x":21.83,"y":0.394},{"k":"c11","x":22.63,"y":0.365},{"k":"c11","x":23.33,"y":0.383},{"k":"c11","x":24.1,"y":0.366},
{"k":"c12","x":18.81,"y":0.403},{"k":"c12","x":19.81,"y":0.413},{"k":"c12","x":20.81,"y":0.422},{"k":"c12","x":21.34,"y":0.428},{"k":"c12","x":21.59,"y":0.448},{"k":"c12","x":21.74,"y":0.427},{"k":"c12","x":21.92,"y":0.461},{"k":"c12","x":22.09,"y":0.428},{"k":"c12","x":22.24,"y":0.433},{"k":"c12","x":22.34,"y":0.492},{"k":"c12","x":22.44,"y":0.424},{"k":"c12","x":22.59,"y":0.436},{"k":"c12","x":22.79,"y":0.421},{"k":"c12","x":23.54,"y":0.428},{"k":"c12","x":24.34,"y":0.4},{"k":"c12","x":25.04,"y":0.419},{"k":"c12","x":25.81,"y":0.403},
{"k":"f1","x":19.45,"y":0},{"k":"f1","x":21.05,"y":0.007},{"k":"f1","x":22.45,"y":0.023},{"k":"f1","x":23.03,"y":0.029},{"k":"f1","x":23.15,"y":0.099},{"k":"f1","x":23.25,"y":0.099},{"k":"f1","x":23.37,"y":0.029},{"k":"f1","x":24.05,"y":0.022},{"k":"f1","x":25.25,"y":0.009},{"k":"f1","x":26.45,"y":0},
{"k":"f2","x":21.16,"y":0.037},{"k":"f2","x":22.76,"y":0.042},{"k":"f2","x":24.16,"y":0.053},{"k":"f2","x":24.74,"y":0.057},{"k":"f2","x":24.86,"y":0.253},{"k":"f2","x":24.96,"y":0.253},{"k":"f2","x":25.08,"y":0.057},{"k":"f2","x":25.76,"y":0.052},{"k":"f2","x":26.96,"y":0.043},{"k":"f2","x":28.16,"y":0.037},
{"k":"f3","x":22.87,"y":0.073},{"k":"f3","x":24.47,"y":0.076},{"k":"f3","x":25.87,"y":0.083},{"k":"f3","x":26.45,"y":0.085},{"k":"f3","x":26.57,"y":0.385},{"k":"f3","x":26.67,"y":0.385},{"k":"f3","x":26.79,"y":0.085},{"k":"f3","x":27.47,"y":0.082},{"k":"f3","x":28.67,"y":0.077},{"k":"f3","x":29.87,"y":0.073},
{"k":"f4","x":24.58,"y":0.11},{"k":"f4","x":26.18,"y":0.113},{"k":"f4","x":27.58,"y":0.119},{"k":"f4","x":28.16,"y":0.122},{"k":"f4","x":28.28,"y":0.422},{"k":"f4","x":28.38,"y":0.422},{"k":"f4","x":28.5,"y":0.122},{"k":"f4","x":29.18,"y":0.119},{"k":"f4","x":30.38,"y":0.113},{"k":"f4","x":31.58,"y":0.11},
{"k":"f5","x":26.29,"y":0.146},{"k":"f5","x":27.89,"y":0.149},{"k":"f5","x":29.29,"y":0.156},{"k":"f5","x":29.87,"y":0.158},{"k":"f5","x":29.99,"y":0.397},{"k":"f5","x":30.09,"y":0.397},{"k":"f5","x":30.21,"y":0.158},{"k":"f5","x":30.89,"y":0.155},{"k":"f5","x":32.09,"y":0.15},{"k":"f5","x":33.29,"y":0.146},
{"k":"f6","x":28,"y":0.183},{"k":"f6","x":29.6,"y":0.186},{"k":"f6","x":31,"y":0.193},{"k":"f6","x":31.58,"y":0.195},{"k":"f6","x":31.7,"y":0.369},{"k":"f6","x":31.8,"y":0.369},{"k":"f6","x":31.92,"y":0.195},{"k":"f6","x":32.6,"y":0.192},{"k":"f6","x":33.8,"y":0.187},{"k":"f6","x":35,"y":0.183},
{"k":"f7","x":29.71,"y":0.22},{"k":"f7","x":31.31,"y":0.223},{"k":"f7","x":32.71,"y":0.229},{"k":"f7","x":33.29,"y":0.232},{"k":"f7","x":33.41,"y":0.404},{"k":"f7","x":33.51,"y":0.404},{"k":"f7","x":33.63,"y":0.232},{"k":"f7","x":34.31,"y":0.229},{"k":"f7","x":35.51,"y":0.223},{"k":"f7","x":36.71,"y":0.22},
{"k":"f8","x":31.42,"y":0.256},{"k":"f8","x":33.02,"y":0.259},{"k":"f8","x":34.42,"y":0.266},{"k":"f8","x":35.0,"y":0.268},{"k":"f8","x":35.12,"y":0.464},{"k":"f8","x":35.22,"y":0.464},{"k":"f8","x":35.34,"y":0.268},{"k":"f8","x":36.02,"y":0.265},{"k":"f8","x":37.22,"y":0.26},{"k":"f8","x":38.42,"y":0.256},
{"k":"f9","x":33.13,"y":0.293},{"k":"f9","x":34.73,"y":0.296},{"k":"f9","x":36.13,"y":0.302},{"k":"f9","x":36.71,"y":0.305},{"k":"f9","x":36.83,"y":0.518},{"k":"f9","x":36.93,"y":0.518},{"k":"f9","x":37.05,"y":0.305},{"k":"f9","x":37.73,"y":0.302},{"k":"f9","x":38.93,"y":0.296},{"k":"f9","x":40.13,"y":0.293},
{"k":"f10","x":34.84,"y":0.329},{"k":"f10","x":36.44,"y":0.332},{"k":"f10","x":37.84,"y":0.339},{"k":"f10","x":38.42,"y":0.341},{"k":"f10","x":38.54,"y":0.571},{"k":"f10","x":38.64,"y":0.571},{"k":"f10","x":38.76,"y":0.341},{"k":"f10","x":39.44,"y":0.338},{"k":"f10","x":40.64,"y":0.333},{"k":"f10","x":41.84,"y":0.329},
{"k":"f11","x":36.55,"y":0.366},{"k":"f11","x":38.15,"y":0.369},{"k":"f11","x":39.55,"y":0.376},{"k":"f11","x":40.13,"y":0.378},{"k":"f11","x":40.25,"y":0.623},{"k":"f11","x":40.35,"y":0.623},{"k":"f11","x":40.47,"y":0.378},{"k":"f11","x":41.15,"y":0.375},{"k":"f11","x":42.35,"y":0.37},{"k":"f11","x":43.55,"y":0.366},
{"k":"f12","x":38.26,"y":0.403},{"k":"f12","x":39.86,"y":0.406},{"k":"f12","x":41.26,"y":0.412},{"k":"f12","x":41.84,"y":0.415},{"k":"f12","x":41.96,"y":0.629},{"k":"f12","x":42.06,"y":0.629},{"k":"f12","x":42.18,"y":0.415},{"k":"f12","x":42.86,"y":0.412},{"k":"f12","x":44.06,"y":0.406},{"k":"f12","x":45.26,"y":0.403}
]},
"encoding":{"y":{"field":"y","type":"quantitative","scale":{"domain":[-0.2045,1.7192],"nice":false,"zero":false},"axis":{"orient":"left","offset":-91,"values":[0,0.05,0.1,0.15,0.2,0.25,0.3,0.35,0.4],"labelExpr":"round(datum.value*20) % 2 == 1 ? '' : replace(format(datum.value, '.1f'), '.', ',')","domain":false,"grid":false,"tickSize":{"condition":{"test":"round(datum.value*20) % 2 == 1","value":-2},"value":3},"tickColor":"#231f20","labelFont":"DejaVu Sans","labelFontSize":14,"labelColor":"#231f20","labelPadding":4,"labelOverlap":false,"title":null}}},
"layer":[
{"mark":{"type":"line","color":"#1f72c2","strokeWidth":1.2},"encoding":{"detail":{"field":"k","type":"nominal"}}},
{"data":{"values":[{"x":-0.478,"y":0,"y2":0.4}]},"mark":{"type":"rule","color":"#231f20","strokeWidth":1},"encoding":{"y2":{"field":"y2"}}},
{"data":{"values":[{"x":-0.558,"x2":23.084,"y":0}]},"mark":{"type":"rule","color":"#231f20","strokeWidth":1},"encoding":{"x2":{"field":"x2"}}},
{"data":{"values":[{"x":30.462,"y":-0.0337,"x2":45.948,"y2":0.2963}]},"mark":{"type":"rule","color":"#1f72c2","strokeWidth":1.3},"encoding":{"x2":{"field":"x2"},"y2":{"field":"y2"}}},
{"data":{"values":[{"x":45.948,"y":0.2963}]},"mark":{"type":"point","shape":"M-1,-0.42L1,0L-1,0.42L-0.55,0Z","angle":-28.1,"size":256,"filled":true,"color":"#231f20","opacity":1}},
{"data":{"values":[{"x":0.637,"y":0.0722,"t":"C"},{"x":20.24,"y":0.07,"t":"F"}]},"mark":{"type":"text","font":"Liberation Sans","fontWeight":"bold","fontSize":21,"align":"left","baseline":"alphabetic","color":"#231f20"},"encoding":{"text":{"field":"t"}}},
{"data":{"values":[{"x":1.275,"y":-0.1717,"t":"Spleetpositie"},{"x":14.582,"y":-0.1717,"t":"(mm)"}]},"mark":{"type":"text","font":"DejaVu Sans","fontSize":20,"align":"left","baseline":"alphabetic","color":"#231f20"},"encoding":{"text":{"field":"t"}}},
{"data":{"values":[{"x":12.908,"y":-0.1717,"t":"x"}]},"mark":{"type":"text","font":"DejaVu Sans","fontStyle":"italic","fontSize":20,"align":"left","baseline":"alphabetic","color":"#231f20"},"encoding":{"text":{"field":"t"}}},
{"data":{"values":[{"x":27.865,"y":-0.0153,"t":"1/2"},{"x":29.897,"y":0.0219,"t":"3/2"},{"x":31.793,"y":0.0588,"t":"5/2"},{"x":33.506,"y":0.1024,"t":"7/2"}]},"mark":{"type":"text","font":"DejaVu Sans","fontSize":15,"align":"center","baseline":"middle","color":"#231f20"},"encoding":{"text":{"field":"t"}}},
{"data":{"values":[{"x":41.41,"y":0.0967,"t":"Iteratie-volgorde"}]},"mark":{"type":"text","font":"DejaVu Sans","fontSize":19,"align":"center","baseline":"alphabetic","angle":-28.2,"color":"#231f20"},"encoding":{"text":{"field":"t"}}}
]}
],
"resolve":{"scale":{"y":"independent"},"axis":{"y":"independent"}}
}
